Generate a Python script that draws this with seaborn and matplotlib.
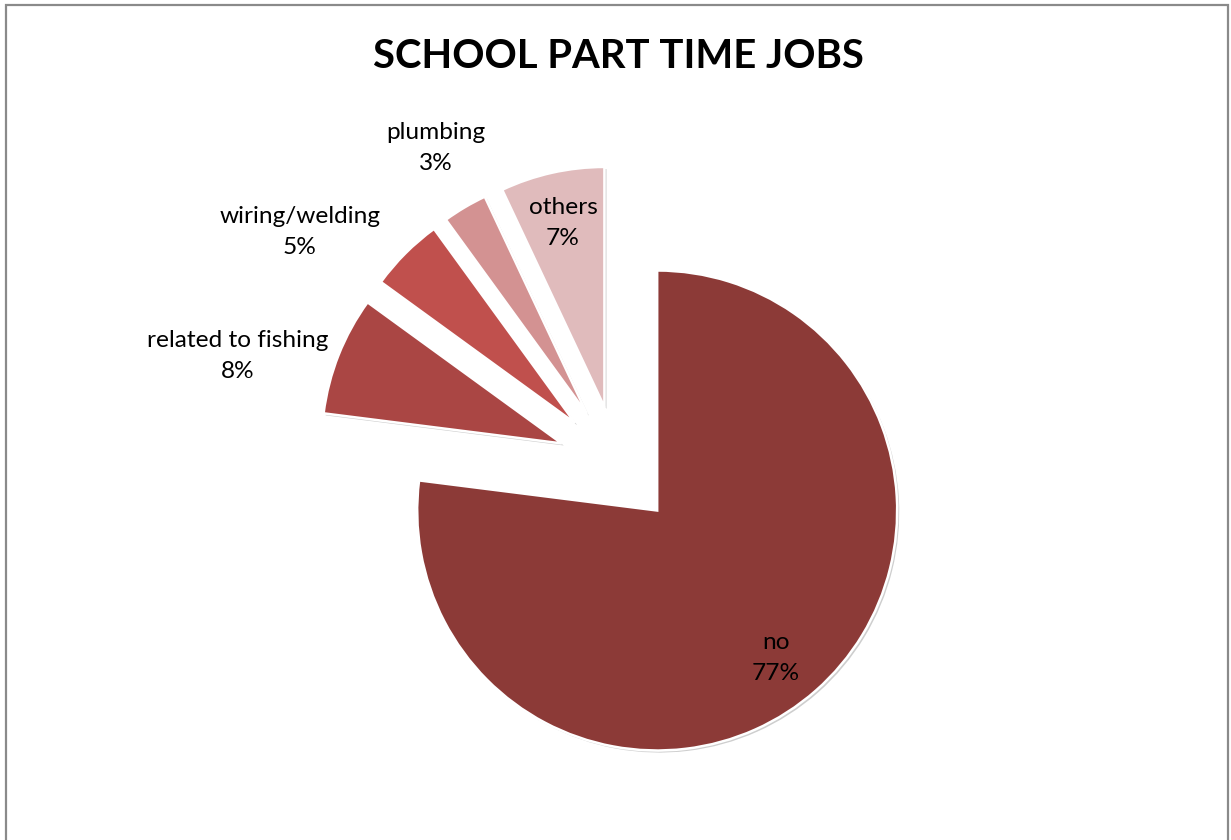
import matplotlib
matplotlib.use("Agg")
import matplotlib.pyplot as plt
import matplotlib.patheffects as pe
from matplotlib.patches import Rectangle
import seaborn as sns

sns.set_theme(style="white")
plt.rcParams['font.family'] = ['Lato', 'DejaVu Sans']

# ---- data ----
categories = ["no", "related to fishing", "wiring/welding", "plumbing", "others"]
shares = [77, 8, 5, 3, 7]
colors = ["#8C3A37", "#AA4644", "#C0504D", "#D39292", "#E0BBBC"]
title = "SCHOOL PART TIME JOBS"

# ---- layout (image pixel coordinates) ----
W, H = 1231, 840
pie_center_px = (617.5, 465.5)
pie_radius = 240
explode_px = 60
label_pos_px = {
    "no": (776, 658),
    "related to fishing": (238, 356),
    "wiring/welding": (300, 232),
    "plumbing": (436, 148),
    "others": (563, 223),
}

fig = plt.figure(figsize=(W / 100, H / 100), dpi=100)
ax = fig.add_axes([0, 0, 1, 1])

wedges, _ = ax.pie(
    shares,
    colors=colors,
    startangle=90,
    counterclock=False,
    radius=pie_radius,
    center=(pie_center_px[0], H - pie_center_px[1]),
    explode=[explode_px] * len(shares),
    labeldistance=None,
    wedgeprops=dict(edgecolor="white", linewidth=1.8),
)
for w in wedges:
    w.set_path_effects([
        pe.SimplePatchShadow(offset=(1.5, -1.5), shadow_rgbFace="0.45", alpha=0.35),
        pe.Normal(),
    ])

ax.set_xlim(0, W)
ax.set_ylim(0, H)
ax.set_aspect("equal")
ax.axis("off")

for cat, val in zip(categories, shares):
    x, y = label_pos_px[cat]
    ax.text(x, H - y, f"{cat}\n{val}%", ha="center", va="center",
            fontsize=17.6, color="black", linespacing=1.6)

ax.text(618, H - 56, title, ha="center", va="center",
        fontsize=28.8, fontweight="bold", color="black")

# chart border
fig.patches.append(Rectangle((6 / W, -0.05), (1228 - 6) / W, (H - 5) / H + 0.05,
                             transform=fig.transFigure, fill=False,
                             edgecolor="#8a8a8a", linewidth=1.6))

fig.savefig("out.png", dpi=100, facecolor="white")
